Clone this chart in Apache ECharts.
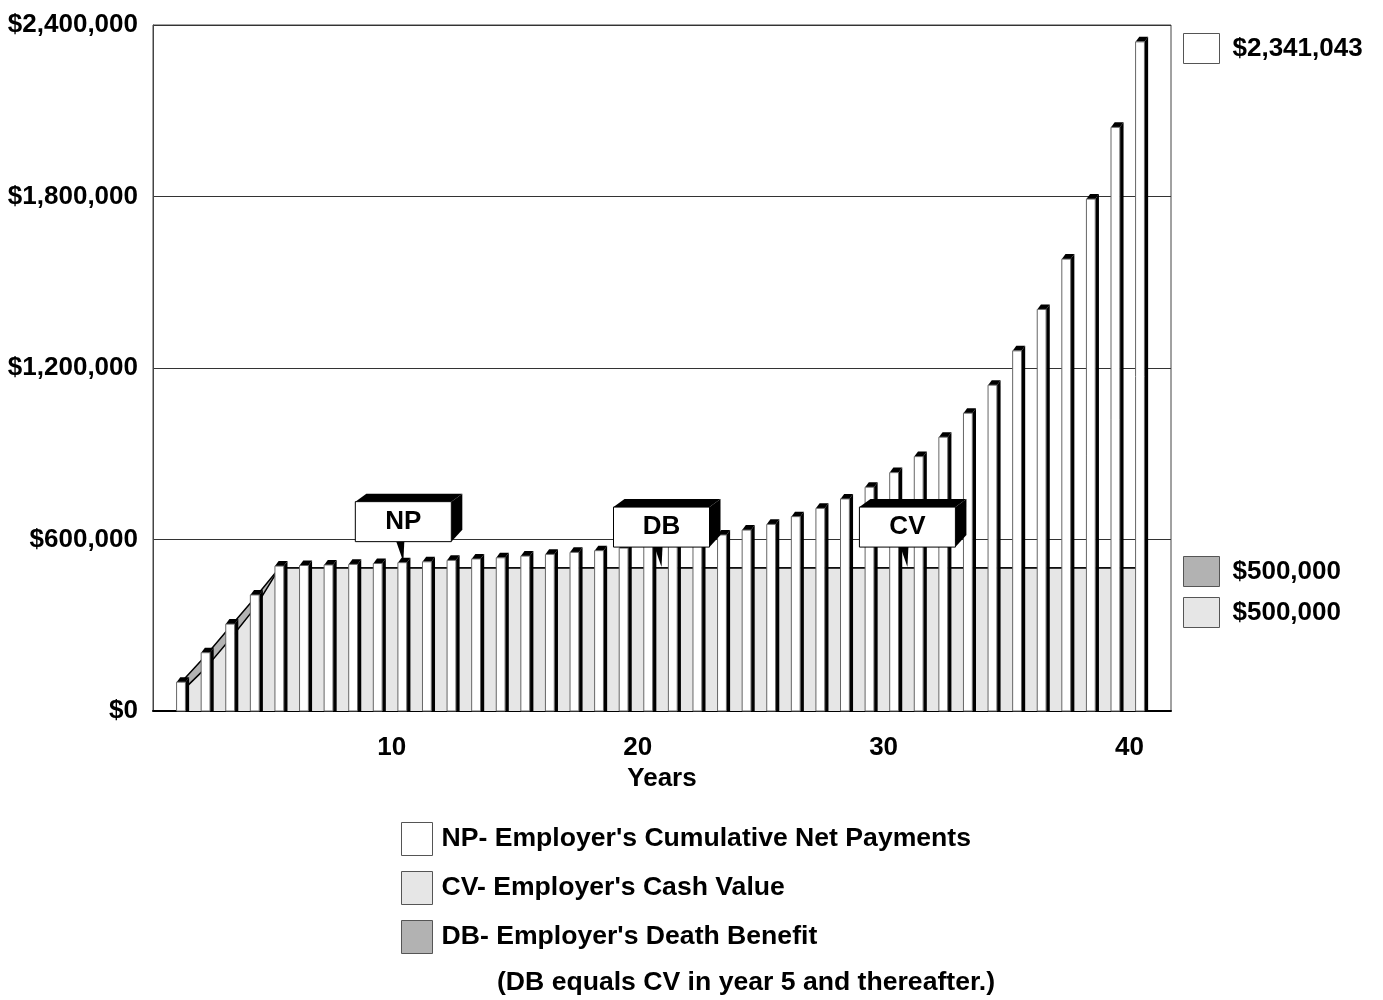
<!DOCTYPE html>
<html>
<head>
<meta charset="utf-8">
<script src="https://cdn.jsdelivr.net/npm/echarts@6/dist/echarts.min.js"></script>
<style>
html,body{margin:0;padding:0;background:#fff;}
#chart{width:1383px;height:1000px;}
</style>
</head>
<body>
<div id="chart"></div>
<script>
// ---- data ----
const years = [1,2,3,4,5,6,7,8,9,10,11,12,13,14,15,16,17,18,19,20,21,22,23,24,25,26,27,28,29,30,31,32,33,34,35,36,37,38,39,40];
const npValues = [101000,204000,304000,406000,507000,509000,511000,513000,516000,519000,
                  522000,527000,532000,536000,542000,548000,555000,561000,570000,578000,
                  589000,601000,616000,633000,653000,680000,709000,742000,783000,834000,
                  890000,958000,1042000,1140000,1260000,1405000,1581000,1791000,2042000,2341043];
const cvValues = [66000,150000,252000,360000,500000,500000,500000,500000,500000,500000,
                  500000,500000,500000,500000,500000,500000,500000,500000,500000,500000,
                  500000,500000,500000,500000,500000,500000,500000,500000,500000,500000,
                  500000,500000,500000,500000,500000,500000,500000,500000,500000,500000];
const dbValues = [100000,193000,295000,395000,500000,500000,500000,500000,500000,500000,
                  500000,500000,500000,500000,500000,500000,500000,500000,500000,500000,
                  500000,500000,500000,500000,500000,500000,500000,500000,500000,500000,
                  500000,500000,500000,500000,500000,500000,500000,500000,500000,500000];
const xTickYears = [10,20,30,40];
const calloutLabels = ['NP','DB','CV'];
const calloutYears = [10,20.5,30.5];
const calloutValues = [npValues[9],dbValues[19],cvValues[29]];
const npName = "NP- Employer's Cumulative Net Payments";
const cvName = "CV- Employer's Cash Value";
const dbName = "DB- Employer's Death Benefit";
const noteText = "(DB equals CV in year 5 and thereafter.)";

// ---- chart ----
const FONT = "'Liberation Sans', Arial, Helvetica, sans-serif";
const money = v => '$' + Math.round(v).toLocaleString('en-US');
const chart = echarts.init(document.getElementById('chart'), null, {renderer:'canvas'});

const npData = years.map((y,i)=>[y,npValues[i]]);
const cvData = years.map((y,i)=>[y,cvValues[i]]);
const dbData = years.map((y,i)=>[y,dbValues[i]]);
const calloutData = calloutLabels.map((l,i)=>[calloutYears[i],calloutValues[i],l]);

const txt = {fontFamily:FONT, fontWeight:'bold', fontSize:26, color:'#000'};
const txtWide = Object.assign({}, txt, {fontSize:26.6});

function renderBar(params, api){
  const x = api.value(0), v = api.value(1);
  const top = api.coord([x, v]);
  const base = api.coord([x, 0]);
  const band = api.size([1,0])[0];
  const w = band*0.36, dx = band*0.15, dy = 5;
  const x0 = top[0]-w/2, x1 = top[0]+w/2;
  return {type:'group', children:[
    {type:'polygon', shape:{points:[[x1,base[1]],[x1,top[1]],[x1+dx,top[1]-dy],[x1+dx,base[1]]]}, style:{fill:'#000'}},
    {type:'polygon', shape:{points:[[x0,top[1]],[x0+dx,top[1]-dy],[x1+dx,top[1]-dy],[x1,top[1]]]}, style:{fill:'#000'}},
    {type:'rect', shape:{x:x0, y:top[1], width:w, height:base[1]-top[1]}, style:{fill:'#fff', stroke:'#666', lineWidth:1}}
  ]};
}

function renderCallout(params, api){
  const p = api.coord([api.value(0), api.value(1)]);
  const label = api.value(2);
  const bw = 96, bh = 40, gap = 21, ddx = 11, ddy = 8;
  const bx0 = p[0]-bw/2+1, bx1 = bx0+bw, by1 = p[1]-gap, by0 = by1-bh;
  return {type:'group', children:[
    {type:'polygon', shape:{points:[[p[0]-6,by1],[p[0]+2,by1],[p[0]+1,p[1]-1]]}, style:{fill:'#000'}},
    {type:'polygon', shape:{points:[[bx0,by0],[bx0+ddx,by0-ddy],[bx1+ddx,by0-ddy],[bx1,by0]]}, style:{fill:'#000'}},
    {type:'polygon', shape:{points:[[bx1,by0],[bx1+ddx,by0-ddy],[bx1+ddx,by1-ddy-4],[bx1,by1]]}, style:{fill:'#000'}},
    {type:'rect', shape:{x:bx0, y:by0, width:bw, height:bh}, style:{fill:'#fff', stroke:'#000', lineWidth:1}},
    {type:'text', style:{x:(bx0+bx1)/2, y:(by0+by1)/2, text:label, align:'center', verticalAlign:'middle',
      fill:'#000', font:'bold 26px ' + FONT}}
  ]};
}

const rightLegend = (name, top, color) => ({
  orient:'vertical', left:1183, top:top, padding:0, selectedMode:false,
  itemWidth:36, itemHeight:30, icon:'rect',
  data:[{name:name, icon:'rect', itemStyle:{color:color, borderColor:'#555', borderWidth:1}}],
  formatter: n => money(n===npName ? npValues[npValues.length-1] : (n===dbName ? dbValues[dbValues.length-1] : cvValues[cvValues.length-1])),
  textStyle:Object.assign({}, txt, {padding:[0,0,0,8]})
});

const option = {
  backgroundColor:'#fff',
  animation:false,
  title:{text:noteText, left:497, top:969, padding:0, textStyle:txtWide},
  grid:{left:153, right:212, top:25, bottom:289, show:true, borderColor:'#444', borderWidth:1, outerBoundsMode:'none', containLabel:false},
  xAxis:{type:'value', min:-0.139, max:41.26,
    name:'Years', nameLocation:'middle', nameGap:53, nameTextStyle:txt,
    axisLine:{show:true, onZero:false, lineStyle:{color:'#000', width:2}},
    axisTick:{show:false}, splitLine:{show:false},
    axisLabel:Object.assign({}, txt, {customValues:xTickYears, margin:24, padding:[0,21,0,0], formatter: v=>String(v)})
  },
  yAxis:{type:'value', min:0, max:2400000, interval:600000,
    axisLine:{show:true, onZero:false, lineStyle:{color:'#444', width:1}},
    axisTick:{show:false},
    splitLine:{show:true, lineStyle:{color:'#333', width:1}},
    axisLabel:Object.assign({}, txt, {margin:15, formatter: v=>money(v)})
  },
  legend:[
    {orient:'vertical', left:401, top:822, padding:0, selectedMode:false, itemWidth:31, itemHeight:33, itemGap:15, icon:'rect',
      data:[
        {name:npName, icon:'rect', itemStyle:{color:'#fff', borderColor:'#555', borderWidth:1}},
        {name:cvName, icon:'rect', itemStyle:{color:'#e6e6e6', borderColor:'#555', borderWidth:1}},
        {name:dbName, icon:'rect', itemStyle:{color:'#b2b2b2', borderColor:'#555', borderWidth:1}}
      ],
      textStyle:Object.assign({}, txtWide, {padding:[0,0,0,4]})
    },
    rightLegend(npName, 33, '#fff'),
    rightLegend(dbName, 556, '#b2b2b2'),
    rightLegend(cvName, 597, '#e6e6e6')
  ],
  series:[
    {name:dbName, type:'line', data:dbData, z:1, symbol:'none', color:'#b2b2b2',
      lineStyle:{color:'#000', width:1.5}, areaStyle:{color:'#b2b2b2', opacity:1}},
    {name:cvName, type:'line', data:cvData, z:2, symbol:'none', color:'#e6e6e6',
      lineStyle:{color:'#000', width:1.5}, areaStyle:{color:'#e6e6e6', opacity:1}},
    {name:npName, type:'custom', data:npData, z:3, renderItem:renderBar, clip:false, color:'#fff'},
    {name:'callouts', type:'custom', data:calloutData, z:4, renderItem:renderCallout, clip:false, silent:true,
      encode:{x:0, y:1}}
  ]
};
chart.setOption(option);
</script>
</body>
</html>
